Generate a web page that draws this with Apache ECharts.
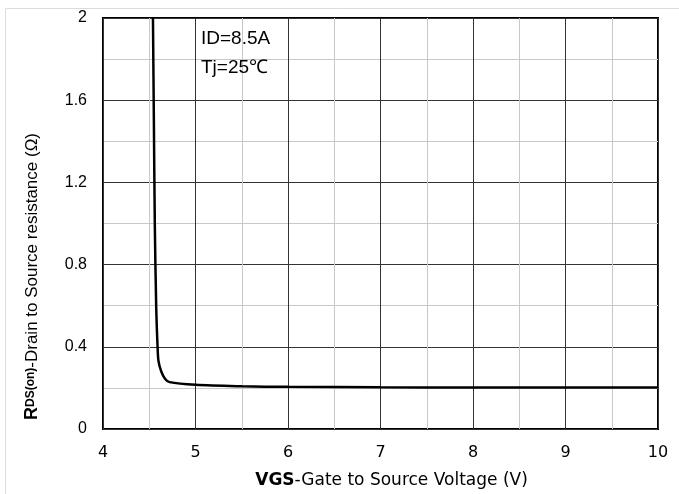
<!DOCTYPE html>
<html><head><meta charset="utf-8">
<script src="https://cdn.jsdelivr.net/npm/echarts@6/dist/echarts.min.js"></script>
<style>html,body{margin:0;padding:0;background:#fff}#c{width:679px;height:494px}</style>
</head><body><div id="c"></div>
<script>
const vgs = [4.54, 4.55, 4.56, 4.575, 4.59, 4.60, 4.63, 4.67, 4.72, 5.0, 5.5, 6.0, 7.0, 8.0, 9.0, 10.0];
const rds = [2.0, 1.5, 1.0, 0.6, 0.4, 0.33, 0.28, 0.245, 0.228, 0.215, 0.208, 0.205, 0.203, 0.202, 0.202, 0.202];
const xTicks = [4, 5, 6, 7, 8, 9, 10];
const yTicks = [0, 0.4, 0.8, 1.2, 1.6, 2];
const notes = ['ID=8.5A', 'Tj=25℃'];

const chart = echarts.init(document.getElementById('c'));
const font = 'Liberation Sans, Arial, sans-serif';
const wide = 'DejaVu Sans, sans-serif';
chart.setOption({
  animation: false,
  graphic: [
    {type: 'rect', shape: {x: 5.5, y: 8.5, width: 700, height: 600}, style: {fill: 'none', stroke: '#dcdcdc', lineWidth: 1}, z: 0},
    {type: 'text', left: 201, top: 29, style: {text: notes[0], font: '19px ' + font, fill: '#000'}, z: 10},
    {type: 'text', left: 201, top: 58, style: {text: notes[1], font: '19px ' + font, fill: '#000'}, z: 10}
  ],
  grid: {left: 103, right: 21, top: 18, bottom: 64, show: true, borderColor: '#000', borderWidth: 2, backgroundColor: 'transparent'},
  xAxis: {
    type: 'value', min: xTicks[0], max: xTicks[xTicks.length - 1], interval: 1,
    axisLine: {show: false}, axisTick: {show: false},
    axisLabel: {color: '#000', fontSize: 16, fontFamily: wide, margin: 16},
    splitLine: {show: true, lineStyle: {color: '#333', width: 1}},
    minorTick: {show: false, splitNumber: 2},
    minorSplitLine: {show: true, lineStyle: {color: '#c8c8c8', width: 1}},
    name: '{b|VGS}{n|-Gate to Source Voltage (V)}', nameLocation: 'middle', nameGap: 43,
    nameTextStyle: {padding: [0, 0, 0, 22], rich: {b: {fontWeight: 'bold', fontSize: 17, fontFamily: wide, color: '#000'}, n: {fontSize: 17, fontFamily: wide, color: '#000'}}}
  },
  yAxis: {
    type: 'value', min: yTicks[0], max: yTicks[yTicks.length - 1], interval: 0.4,
    axisLine: {show: false}, axisTick: {show: false},
    axisLabel: {color: '#000', fontSize: 16, fontFamily: font, margin: 16},
    splitLine: {show: true, lineStyle: {color: '#333', width: 1}},
    minorTick: {show: false, splitNumber: 2},
    minorSplitLine: {show: true, lineStyle: {color: '#c8c8c8', width: 1}},
    name: '{r|R}{d|DS(on)}{n|-Drain to Source resistance (Ω)}', nameLocation: 'middle', nameGap: 62,
    nameTextStyle: {padding: [0, 106, 0, 0], rich: {r: {fontWeight: 'bold', fontSize: 18, fontFamily: font, color: '#000'}, d: {fontWeight: 'bold', fontSize: 12, fontFamily: font, color: '#000', verticalAlign: 'bottom', padding: [0, 0, 4, 0]}, n: {fontSize: 17, fontFamily: font, color: '#000'}}}
  },
  series: [{
    type: 'line', data: vgs.map((v, i) => [v, rds[i]]), showSymbol: false, smooth: 0.3,
    lineStyle: {color: '#000', width: 2.5}, z: 5
  }]
});
</script></body></html>
